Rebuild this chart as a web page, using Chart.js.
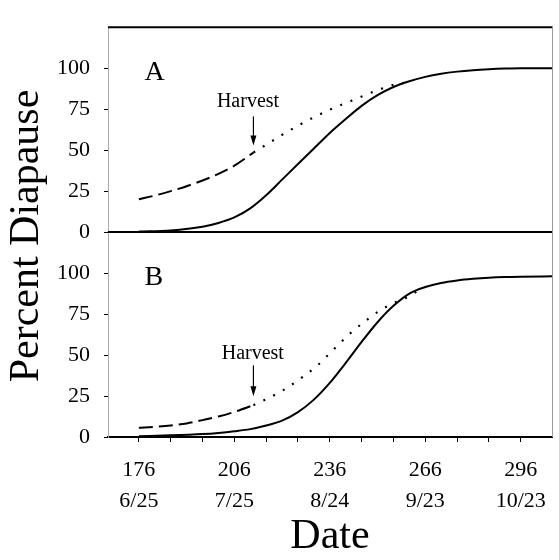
<!DOCTYPE html>
<html>
<head>
<meta charset="utf-8">
<script src="https://cdn.jsdelivr.net/npm/chart.js@4"></script>
<style>
  body { margin: 0; background: #fff; }
  #wrap { width: 559px; height: 560px; position: relative; }
</style>
</head>
<body>
<div id="wrap"><canvas id="chart"></canvas></div>
<script>
// day of year and calendar date for the labelled ticks
const tickDays = [176, 206, 236, 266, 296];
const tickDates = ['6/25', '7/25', '8/24', '9/23', '10/23'];
const yTicks = [0, 25, 50, 75, 100];
const harvestDay = 212;

// panel A
const solidDaysA = [176, 186, 196, 201, 206, 211, 216, 221, 226, 231, 236, 241, 246, 251, 256, 261, 266, 271, 276, 281, 286, 291, 296, 306];
const solidA = [0.3, 1, 3.3, 5.6, 9, 14.5, 22.5, 32, 41.5, 51, 60.5, 69, 77, 83.5, 88.5, 92, 94.7, 96.6, 97.9, 98.8, 99.4, 99.8, 100, 100];
const dashDaysA = [176, 181, 186, 191, 196, 201, 206, 212];
const dashA = [20, 22.3, 25, 28, 31.5, 35.5, 40.5, 48.5];
const dotDaysA = [212, 217, 222, 227, 232, 237, 242, 247, 252, 257, 260];
const dotA = [48.5, 54.5, 60.5, 66, 71, 75.5, 79.5, 83.5, 87.3, 90.3, 91.2];

// panel B
const solidDaysB = [176, 186, 196, 201, 206, 211, 216, 221, 226, 231, 236, 241, 246, 251, 256, 261, 266, 271, 276, 281, 286, 291, 296, 306];
const solidB = [0.5, 1, 1.8, 2.5, 3.5, 4.8, 7, 10, 15.2, 22.8, 33, 45.2, 58, 70, 80, 87.5, 91.5, 94, 95.5, 96.5, 97.2, 97.6, 97.8, 98];
const dashDaysB = [176, 181, 186, 191, 196, 201, 206, 212];
const dashB = [5.7, 6.2, 7, 8.3, 10.3, 12.5, 15.3, 19.4];
const dotDaysB = [212, 217, 222, 227, 232, 237, 242, 247, 252, 257, 262, 264];
const dotB = [19.4, 24, 29.3, 36, 43.5, 53, 62.5, 70.5, 77.5, 82.5, 87, 90];

const serif = 'Liberation Serif, Times New Roman, serif';

function pts(xs, ys) {
    return xs.map((d, i) => ({ x: d, y: ys[i] }));
}

function curve(xs, ys, axis, dash, width) {
    return {
        data: pts(xs, ys),
        yAxisID: axis,
        borderColor: '#000',
        borderWidth: width,
        borderDash: dash,
        pointRadius: 0,
        fill: false,
        cubicInterpolationMode: 'monotone'
    };
}

function panelAxis() {
    return {
        type: 'linear',
        position: 'left',
        stack: 'panels',
        stackWeight: 1,
        min: 0,
        max: 125,
        afterBuildTicks: scale => { scale.ticks = yTicks.map(v => ({ value: v })); },
        afterFit: scale => { scale.width = 108; },
        grid: { drawOnChartArea: false, drawTicks: true, tickLength: 4, color: '#000' },
        border: { display: true, color: '#aaa', width: 1 },
        ticks: { padding: 14, color: '#000', font: { family: serif, size: 22 } }
    };
}

const overlay = {
    id: 'overlay',
    afterDraw(chart) {
        const { ctx, chartArea: area, scales } = chart;
        const x = scales.x, yA = scales.yA, yB = scales.yB;
        const line = (x1, y1, x2, y2) => {
            ctx.beginPath(); ctx.moveTo(x1, y1); ctx.lineTo(x2, y2); ctx.stroke();
        };
        ctx.save();
        ctx.strokeStyle = '#000';
        ctx.lineWidth = 2;
        line(area.left, area.top, area.right, area.top);
        const sep = yA.getPixelForValue(0);
        line(area.left, sep, area.right, sep);
        ctx.strokeStyle = '#999';
        ctx.lineWidth = 1;
        line(area.right, area.top, area.right, area.bottom);

        ctx.fillStyle = '#000';
        ctx.textBaseline = 'alphabetic';
        // panel letters
        ctx.font = '28px ' + serif;
        ctx.textAlign = 'left';
        ctx.fillText('A', x.getPixelForValue(177.8), yA.getPixelForValue(93));
        ctx.fillText('B', x.getPixelForValue(177.8), yB.getPixelForValue(93));

        // harvest notes
        ctx.font = '20px ' + serif;
        ctx.textAlign = 'center';
        ctx.fillText('Harvest', x.getPixelForValue(210.3), yA.getPixelForValue(76.5));
        ctx.fillText('Harvest', x.getPixelForValue(211.8), yB.getPixelForValue(47.3));
        const arrow = (scale, from, to) => {
            const ax = x.getPixelForValue(harvestDay);
            const y1 = scale.getPixelForValue(from), y2 = scale.getPixelForValue(to);
            ctx.strokeStyle = '#000';
            ctx.lineWidth = 1.2;
            line(ax, y1, ax, y2 - 4);
            ctx.beginPath();
            ctx.moveTo(ax, y2);
            ctx.lineTo(ax - 3, y2 - 10);
            ctx.lineTo(ax + 3, y2 - 10);
            ctx.closePath();
            ctx.fill();
        };
        arrow(yA, 70.6, 52.9);
        arrow(yB, 43.7, 24.8);

        // axis titles
        ctx.font = '42px ' + serif;
        ctx.textAlign = 'center';
        ctx.fillText('Date', 330, 548);
        ctx.translate(38, 236);
        ctx.rotate(-Math.PI / 2);
        ctx.font = '42px ' + serif;
        ctx.fillText('Percent Diapause', 0, 0);
        ctx.restore();
    }
};

new Chart(document.getElementById('chart'), {
    type: 'line',
    data: {
        datasets: [
            curve(solidDaysA, solidA, 'yA', [], 2),
            curve(dashDaysA, dashA, 'yA', [14, 6], 2),
            curve(dotDaysA, dotA, 'yA', [2, 9], 2.2),
            curve(solidDaysB, solidB, 'yB', [], 2),
            curve(dashDaysB, dashB, 'yB', [14, 6], 2),
            curve(dotDaysB, dotB, 'yB', [2, 9], 2.2)
        ]
    },
    options: {
        responsive: true,
        maintainAspectRatio: false,
        animation: false,
        layout: { padding: { top: 14, right: 3, left: 0, bottom: 0 } },
        plugins: { legend: { display: false }, tooltip: { enabled: false } },
        scales: {
            x: {
                type: 'linear',
                min: 166.3,
                max: 306,
                afterBuildTicks: scale => {
                    const t = [];
                    for (let d = 176; d <= 296; d += 10) t.push({ value: d });
                    scale.ticks = t;
                },
                afterFit: scale => { scale.height = 123; },
                grid: { drawOnChartArea: false, drawTicks: true, tickLength: 5, color: '#000' },
                border: { display: true, color: '#000', width: 2 },
                ticks: {
                    autoSkip: false,
                    maxRotation: 0,
                    padding: 13,
                    color: '#000',
                    font: { family: serif, size: 22, lineHeight: 1.4 },
                    callback: v => {
                        const i = tickDays.indexOf(v);
                        return i < 0 ? '' : [String(v), tickDates[i]];
                    }
                }
            },
            // stacked axes are placed bottom-up, so B comes first
            yB: panelAxis(),
            yA: panelAxis()
        }
    },
    plugins: [overlay]
});
</script>
</body>
</html>
